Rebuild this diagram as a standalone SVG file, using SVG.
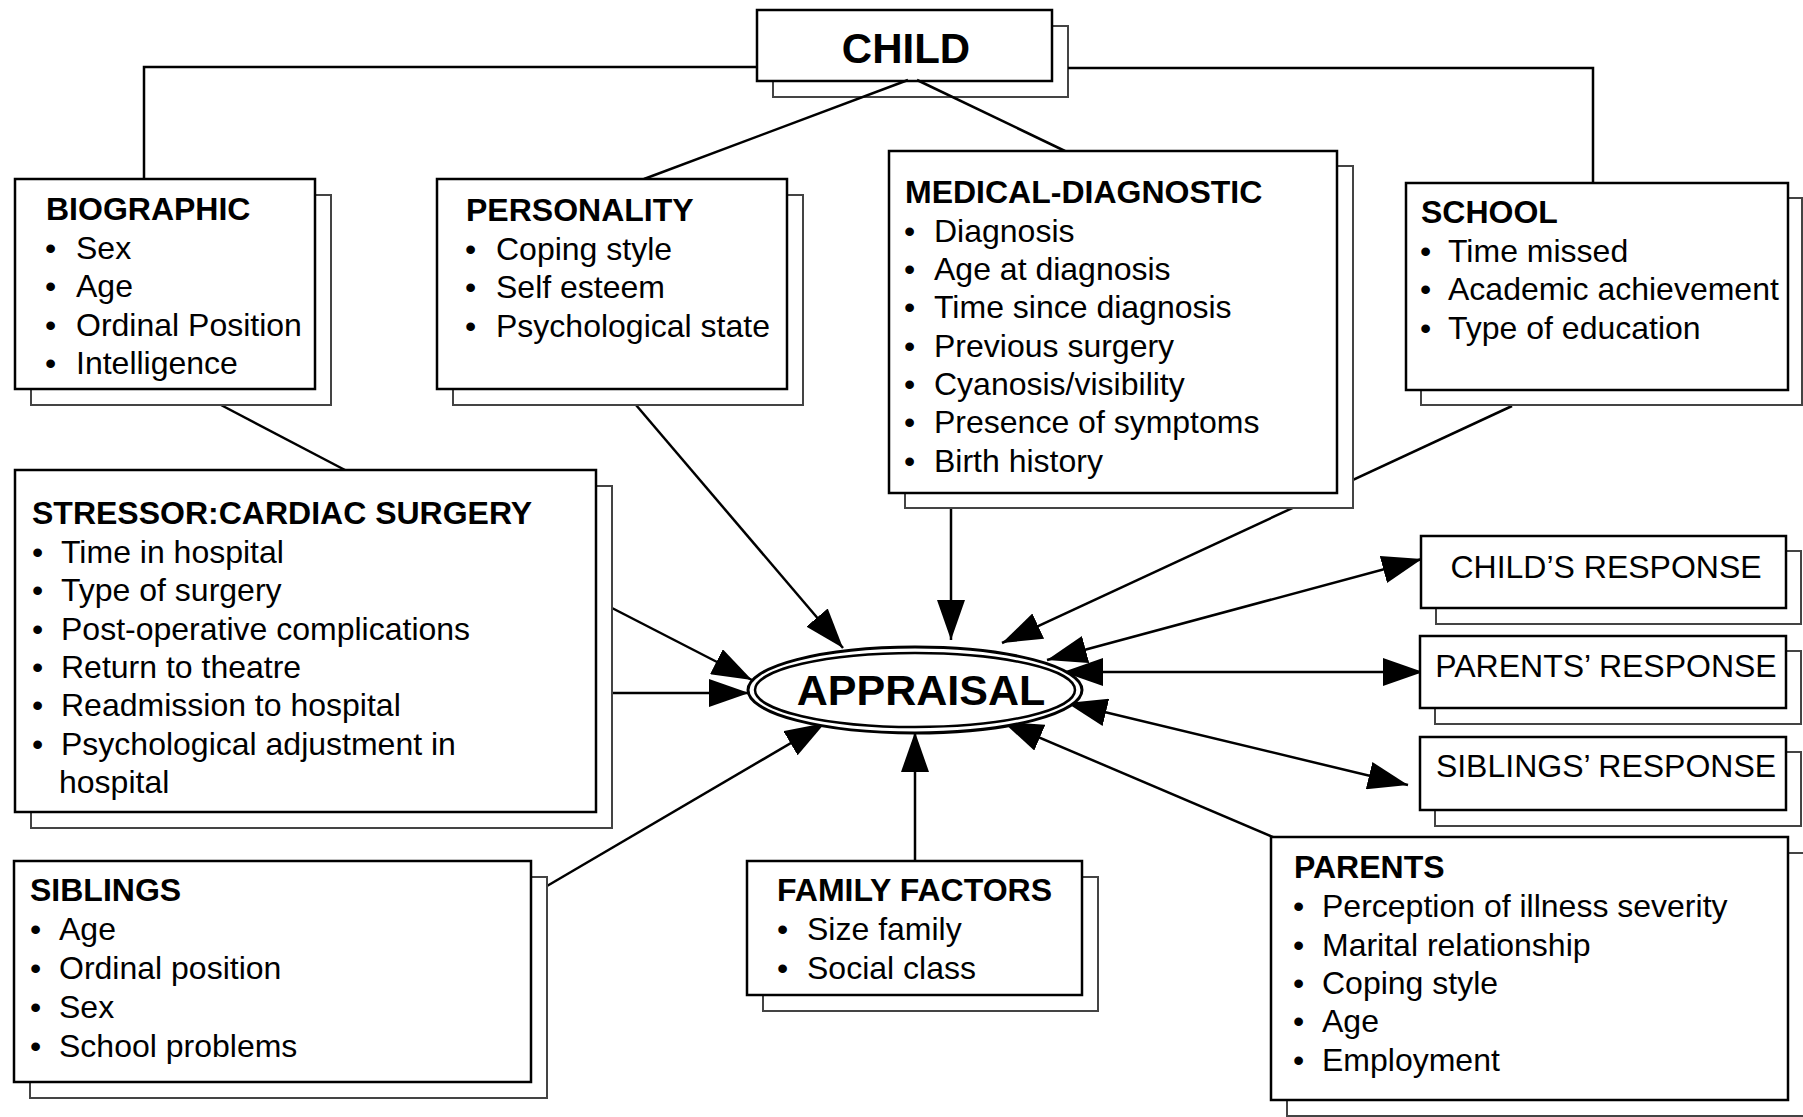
<svg xmlns="http://www.w3.org/2000/svg" width="1803" height="1117" viewBox="0 0 1803 1117">
<style>
.box{fill:#fff;stroke:#000;stroke-width:2.5}
.sh{fill:#fff;stroke:#444;stroke-width:2}
.shn{fill:none;stroke:#444;stroke-width:2}
.t{font-family:"Liberation Sans",Arial,sans-serif;font-size:32px;fill:#000}
.b{font-weight:bold}
.ln{fill:none;stroke:#000;stroke-width:2.5}
.ar{fill:none;stroke:#000;stroke-width:2.5;marker-end:url(#ah)}
.ar2{fill:none;stroke:#000;stroke-width:2.5;marker-end:url(#ah);marker-start:url(#ah)}
</style>
<defs>
<marker id="ah" viewBox="0 0 40 28" refX="40" refY="14" markerWidth="40" markerHeight="28" markerUnits="userSpaceOnUse" orient="auto-start-reverse">
<path d="M0,0 L40,14 L0,28 z" fill="#000"/>
</marker>
</defs>
<rect width="1803" height="1117" fill="#fff"/>

<g id="child">
<rect class="shn" x="773" y="26" width="295" height="71"/>
<rect class="box" x="757" y="10" width="295" height="71"/>
<text class="t b" x="906" y="63" text-anchor="middle" style="font-size:42px">CHILD</text>
</g>

<g id="connectors">
<polyline class="ln" points="757,67 144,67 144,179"/>
<polyline class="ln" points="1068,68 1593,68 1593,183"/>
<line class="ln" x1="908" y1="80" x2="644" y2="179"/>
<line class="ln" x1="917" y1="80" x2="1065" y2="151"/>
<line class="ln" x1="221" y1="405" x2="345" y2="470"/>
<line class="ar" x1="636" y1="405" x2="843" y2="648"/>
<line class="ar" x1="951" y1="508" x2="951" y2="640"/>
<line class="ar" x1="1512" y1="406" x2="1002" y2="643"/>
<line class="ar" x1="612" y1="608" x2="752" y2="680"/>
<line class="ar" x1="612" y1="693" x2="749" y2="693"/>
<line class="ar" x1="547" y1="886" x2="825" y2="723"/>
<line class="ar" x1="915" y1="861" x2="915" y2="732"/>
<line class="ar" x1="1275" y1="838" x2="1003" y2="722"/>
<line class="ar2" x1="1047" y1="660" x2="1422" y2="559"/>
<line class="ar2" x1="1063" y1="672" x2="1423" y2="672"/>
<line class="ar2" x1="1067" y1="703" x2="1408" y2="785"/>
</g>

<g id="appraisal">
<ellipse cx="915" cy="690" rx="167" ry="43" fill="#fff" stroke="#000" stroke-width="3"/>
<ellipse cx="915" cy="690" rx="160" ry="37" fill="none" stroke="#000" stroke-width="2.5"/>
<text class="t b" x="921" y="705" text-anchor="middle" style="font-size:43px">APPRAISAL</text>
</g>

<g id="biographic">
<rect class="sh" x="31" y="195" width="300" height="210"/>
<rect class="box" x="15" y="179" width="300" height="210"/>
<text class="t b" x="46" y="220">BIOGRAPHIC</text>
<text class="t"><tspan x="45" y="259">•</tspan><tspan x="76" y="259">Sex</tspan></text>
<text class="t"><tspan x="45" y="297">•</tspan><tspan x="76" y="297">Age</tspan></text>
<text class="t"><tspan x="45" y="336">•</tspan><tspan x="76" y="336">Ordinal Position</tspan></text>
<text class="t"><tspan x="45" y="374">•</tspan><tspan x="76" y="374">Intelligence</tspan></text>
</g>

<g id="personality">
<rect class="sh" x="453" y="195" width="350" height="210"/>
<rect class="box" x="437" y="179" width="350" height="210"/>
<text class="t b" x="466" y="221">PERSONALITY</text>
<text class="t"><tspan x="465" y="260">•</tspan><tspan x="496" y="260">Coping style</tspan></text>
<text class="t"><tspan x="465" y="298">•</tspan><tspan x="496" y="298">Self esteem</tspan></text>
<text class="t"><tspan x="465" y="337">•</tspan><tspan x="496" y="337">Psychological state</tspan></text>
</g>

<g id="medical">
<rect class="sh" x="905" y="166" width="448" height="342"/>
<rect class="box" x="889" y="151" width="448" height="342"/>
<text class="t b" x="905" y="203">MEDICAL-DIAGNOSTIC</text>
<text class="t"><tspan x="904" y="242">•</tspan><tspan x="934" y="242">Diagnosis</tspan></text>
<text class="t"><tspan x="904" y="280">•</tspan><tspan x="934" y="280">Age at diagnosis</tspan></text>
<text class="t"><tspan x="904" y="318">•</tspan><tspan x="934" y="318">Time since diagnosis</tspan></text>
<text class="t"><tspan x="904" y="357">•</tspan><tspan x="934" y="357">Previous surgery</tspan></text>
<text class="t"><tspan x="904" y="395">•</tspan><tspan x="934" y="395">Cyanosis/visibility</tspan></text>
<text class="t"><tspan x="904" y="433">•</tspan><tspan x="934" y="433">Presence of symptoms</tspan></text>
<text class="t"><tspan x="904" y="472">•</tspan><tspan x="934" y="472">Birth history</tspan></text>
</g>

<g id="school">
<rect class="sh" x="1421" y="198" width="381" height="207"/>
<rect class="box" x="1406" y="183" width="382" height="207"/>
<text class="t b" x="1421" y="223">SCHOOL</text>
<text class="t"><tspan x="1420" y="262">•</tspan><tspan x="1448" y="262">Time missed</tspan></text>
<text class="t"><tspan x="1420" y="300">•</tspan><tspan x="1448" y="300">Academic achievement</tspan></text>
<text class="t"><tspan x="1420" y="339">•</tspan><tspan x="1448" y="339">Type of education</tspan></text>
</g>

<g id="stressor">
<rect class="sh" x="31" y="486" width="581" height="342"/>
<rect class="box" x="15" y="470" width="581" height="342"/>
<text class="t b" x="32" y="524">STRESSOR:CARDIAC SURGERY</text>
<text class="t"><tspan x="32" y="563">•</tspan><tspan x="61" y="563">Time in hospital</tspan></text>
<text class="t"><tspan x="32" y="601">•</tspan><tspan x="61" y="601">Type of surgery</tspan></text>
<text class="t"><tspan x="32" y="640">•</tspan><tspan x="61" y="640">Post-operative complications</tspan></text>
<text class="t"><tspan x="32" y="678">•</tspan><tspan x="61" y="678">Return to theatre</tspan></text>
<text class="t"><tspan x="32" y="716">•</tspan><tspan x="61" y="716">Readmission to hospital</tspan></text>
<text class="t"><tspan x="32" y="755">•</tspan><tspan x="61" y="755">Psychological adjustment in</tspan></text>
<text class="t" x="59" y="793">hospital</text>
</g>

<g id="siblings">
<rect class="sh" x="30" y="877" width="517" height="221"/>
<rect class="box" x="14" y="861" width="517" height="221"/>
<text class="t b" x="30" y="901">SIBLINGS</text>
<text class="t"><tspan x="30" y="940">•</tspan><tspan x="59" y="940">Age</tspan></text>
<text class="t"><tspan x="30" y="979">•</tspan><tspan x="59" y="979">Ordinal position</tspan></text>
<text class="t"><tspan x="30" y="1018">•</tspan><tspan x="59" y="1018">Sex</tspan></text>
<text class="t"><tspan x="30" y="1057">•</tspan><tspan x="59" y="1057">School problems</tspan></text>
</g>

<g id="family">
<rect class="sh" x="763" y="877" width="335" height="134"/>
<rect class="box" x="747" y="861" width="335" height="134"/>
<text class="t b" x="777" y="901">FAMILY FACTORS</text>
<text class="t"><tspan x="777" y="940">•</tspan><tspan x="807" y="940">Size family</tspan></text>
<text class="t"><tspan x="777" y="979">•</tspan><tspan x="807" y="979">Social class</tspan></text>
</g>

<g id="parents">
<rect class="sh" x="1287" y="853" width="517" height="263"/>
<rect class="box" x="1271" y="837" width="517" height="263"/>
<text class="t b" x="1294" y="878">PARENTS</text>
<text class="t"><tspan x="1293" y="917">•</tspan><tspan x="1322" y="917">Perception of illness severity</tspan></text>
<text class="t"><tspan x="1293" y="956">•</tspan><tspan x="1322" y="956">Marital relationship</tspan></text>
<text class="t"><tspan x="1293" y="994">•</tspan><tspan x="1322" y="994">Coping style</tspan></text>
<text class="t"><tspan x="1293" y="1032">•</tspan><tspan x="1322" y="1032">Age</tspan></text>
<text class="t"><tspan x="1293" y="1071">•</tspan><tspan x="1322" y="1071">Employment</tspan></text>
</g>

<g id="childs-response">
<rect class="sh" x="1436" y="551" width="365" height="73"/>
<rect class="box" x="1421" y="536" width="365" height="72"/>
<text class="t" x="1606" y="578" text-anchor="middle">CHILD’S RESPONSE</text>
</g>

<g id="parents-response">
<rect class="sh" x="1435" y="651" width="366" height="73"/>
<rect class="box" x="1420" y="636" width="366" height="72"/>
<text class="t" x="1606" y="677" text-anchor="middle">PARENTS’ RESPONSE</text>
</g>

<g id="siblings-response">
<rect class="sh" x="1435" y="752" width="366" height="74"/>
<rect class="box" x="1420" y="737" width="366" height="73"/>
<text class="t" x="1606" y="777" text-anchor="middle">SIBLINGS’ RESPONSE</text>
</g>
</svg>
